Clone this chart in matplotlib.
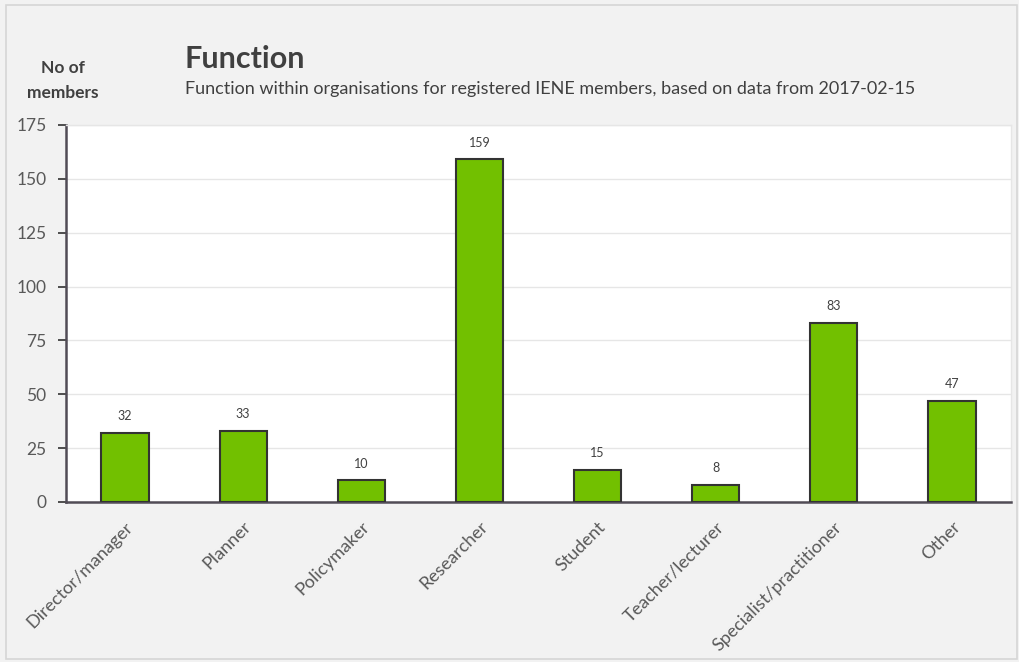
import matplotlib.pyplot as plt
import matplotlib.patches as mpatches

functions = ["Director/manager", "Planner", "Policymaker", "Researcher",
             "Student", "Teacher/lecturer", "Specialist/practitioner", "Other"]
members = [32, 33, 10, 159, 15, 8, 83, 47]
yticks = [0, 25, 50, 75, 100, 125, 150, 175]

plt.rcParams['font.family'] = ['Lato', 'DejaVu Sans']

fig = plt.figure(figsize=(10.2, 6.62), dpi=100, facecolor='#f2f2f2')
# thin frame around the whole panel
fig.patches.append(mpatches.Rectangle((0.006, 0.004), 0.991, 0.988, transform=fig.transFigure,
                                      fill=False, edgecolor='#d6d6d6', linewidth=1.2))

ax = fig.add_axes([0.0647, 0.2417, 0.9265, 0.5695])
ax.set_facecolor('white')

x = range(len(functions))
bars = ax.bar(x, members, width=0.4, color='#72c000', edgecolor='#333333', linewidth=1.5, zorder=3)
for b, v in zip(bars, members):
    ax.text(b.get_x() + b.get_width() / 2, v + 5, str(v), ha='center', va='bottom',
            fontsize=9, color='#404040')

ax.set_xlim(-0.5, len(functions) - 0.5)
ax.set_ylim(0, 175)
ax.set_yticks(yticks)
ax.yaxis.grid(True, color='#e6e6e6', linewidth=1)
ax.set_axisbelow(True)
ax.tick_params(axis='y', length=6, width=1.3, color='#404040', labelsize=12.5,
               labelcolor='#595959', pad=8)
ax.set_xticks(list(x))
ax.set_xticklabels(functions, rotation=45, ha='right', rotation_mode='anchor',
                   fontsize=13, color='#595959')
ax.tick_params(axis='x', length=0, pad=12)

for s in ['left', 'bottom']:
    ax.spines[s].set_color('#514c56')
    ax.spines[s].set_linewidth(1.8)
for s in ['top', 'right']:
    ax.spines[s].set_color('#e6e6e6')
    ax.spines[s].set_linewidth(1)

fig.text(0.181, 0.897, "Function", fontsize=22, fontweight='bold', color='#404040', va='baseline')
fig.text(0.181, 0.866, "Function within organisations for registered IENE members, based on data from 2017-02-15",
         fontsize=13, color='#404040', va='center')
fig.text(0.062, 0.878, "No of\nmembers", fontsize=12.5, fontweight='bold', color='#404040',
         ha='center', va='center', linespacing=1.7)

fig.savefig("out.png", dpi=100, facecolor=fig.get_facecolor())
